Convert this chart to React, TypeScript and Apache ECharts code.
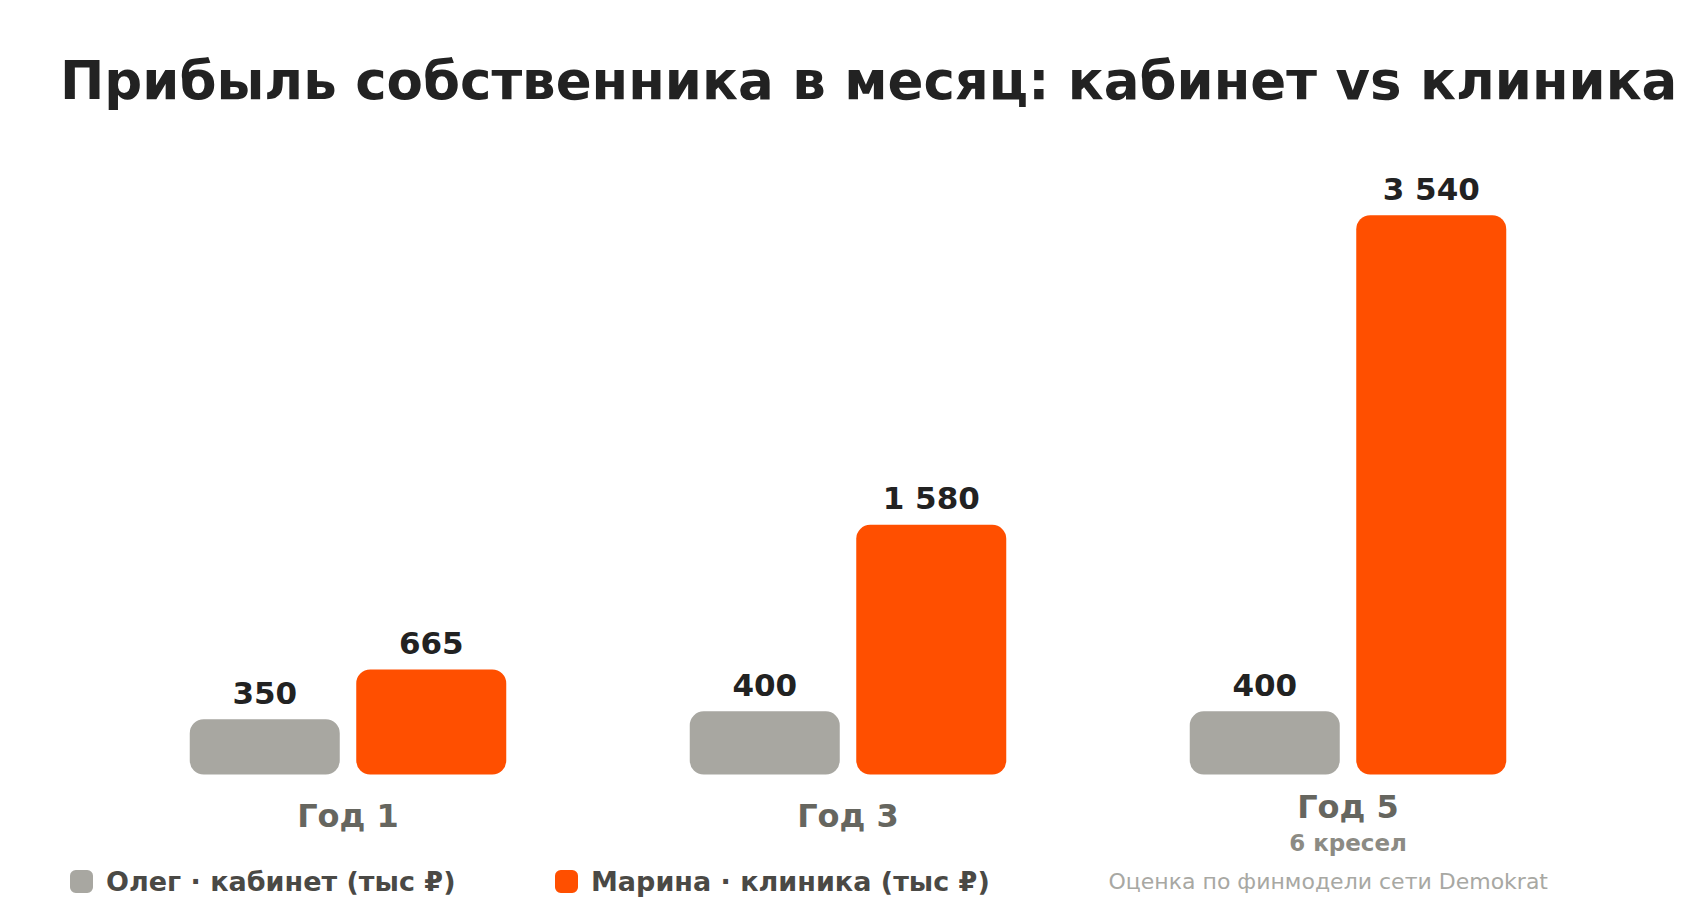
import React, { useEffect, useRef } from 'react';
import * as echarts from 'echarts';

const categories = ['Год 1', 'Год 3', 'Год 5'];
const categoryNotes = ['', '', '6 кресел'];
const olegValues = [350, 400, 400];
const marinaValues = [665, 1580, 3540];
const seriesNames = ['Олег · кабинет (тыс ₽)', 'Марина · клиника (тыс ₽)'];

const FONT = 'DejaVu Sans';
const GRAY = '#a8a7a1';
const ORANGE = '#ff4f00';

const formatValue = (v: number) => String(v).replace(/\B(?=(\d{3})+(?!\d))/g, ' ');

const App: React.FC = () => {
  const chartRef = useRef<HTMLDivElement>(null);

  useEffect(() => {
    if (!chartRef.current) return;
    const chart = echarts.init(chartRef.current, undefined, { renderer: 'svg' });

    const valueLabel = {
      show: true,
      position: 'top',
      distance: 11,
      fontFamily: FONT,
      fontSize: 31,
      fontWeight: 'bold',
      color: '#222222',
      formatter: (p: any) => formatValue(p.value)
    };

    const legendText = {
      fontFamily: FONT,
      fontSize: 27,
      fontWeight: 'bold',
      color: '#4a4945',
      padding: [0, 0, 0, 8]
    };

    const option = {
      animation: false,
      backgroundColor: '#ffffff',
      textStyle: { fontFamily: FONT },
      title: [
        {
          text: 'Прибыль собственника в месяц: кабинет vs клиника',
          left: 60,
          top: 54,
          padding: 0,
          textStyle: { fontFamily: FONT, fontSize: 53, fontWeight: 'bold', color: '#222222' }
        },
        {
          text: 'Оценка по финмодели сети Demokrat',
          right: 152,
          top: 870,
          padding: 0,
          textStyle: { fontFamily: FONT, fontSize: 22, fontWeight: 'normal', color: '#a8a8a3' }
        }
      ],
      legend: [
        {
          data: [seriesNames[0]],
          left: 70,
          top: 868,
          padding: 0,
          icon: 'roundRect',
          itemWidth: 23,
          itemHeight: 23,
          textStyle: legendText
        },
        {
          data: [seriesNames[1]],
          left: 555,
          top: 868,
          padding: 0,
          icon: 'roundRect',
          itemWidth: 23,
          itemHeight: 23,
          textStyle: legendText
        }
      ],
      grid: { left: 98, right: 102, top: 142.5, bottom: 145.5, containLabel: false },
      xAxis: {
        type: 'category',
        data: categories,
        axisLine: { show: false },
        axisTick: { show: false },
        axisLabel: {
          margin: 21,
          formatter: (value: string, idx: number) =>
            categoryNotes[idx] ? `{a2|${value}}\n{b|${categoryNotes[idx]}}` : `{a|${value}}`,
          rich: {
            a: { fontFamily: FONT, fontSize: 32, fontWeight: 'bold', color: '#66665f', lineHeight: 40 },
            a2: { fontFamily: FONT, fontSize: 32, fontWeight: 'bold', color: '#66665f', lineHeight: 22 },
            b: { fontFamily: FONT, fontSize: 23, fontWeight: 'bold', color: '#8c8b84', lineHeight: 50 }
          }
        }
      },
      yAxis: {
        type: 'value',
        min: 0,
        max: 4000,
        axisLine: { show: false },
        axisTick: { show: false },
        axisLabel: { show: false },
        splitLine: { show: false }
      },
      series: [
        {
          name: seriesNames[0],
          type: 'bar',
          data: olegValues,
          barWidth: 150,
          barGap: '11%',
          itemStyle: { color: GRAY, borderRadius: 14 },
          label: valueLabel
        },
        {
          name: seriesNames[1],
          type: 'bar',
          data: marinaValues,
          barWidth: 150,
          barGap: '11%',
          itemStyle: { color: ORANGE, borderRadius: 14 },
          label: valueLabel
        }
      ]
    };

    chart.setOption(option as any);

    return () => {
      chart.dispose();
    };
  }, []);

  return (
    <div
      ref={chartRef}
      style={{ position: 'absolute', left: 0, top: 0, width: 1700, height: 920 }}
    />
  );
};

export default App;
